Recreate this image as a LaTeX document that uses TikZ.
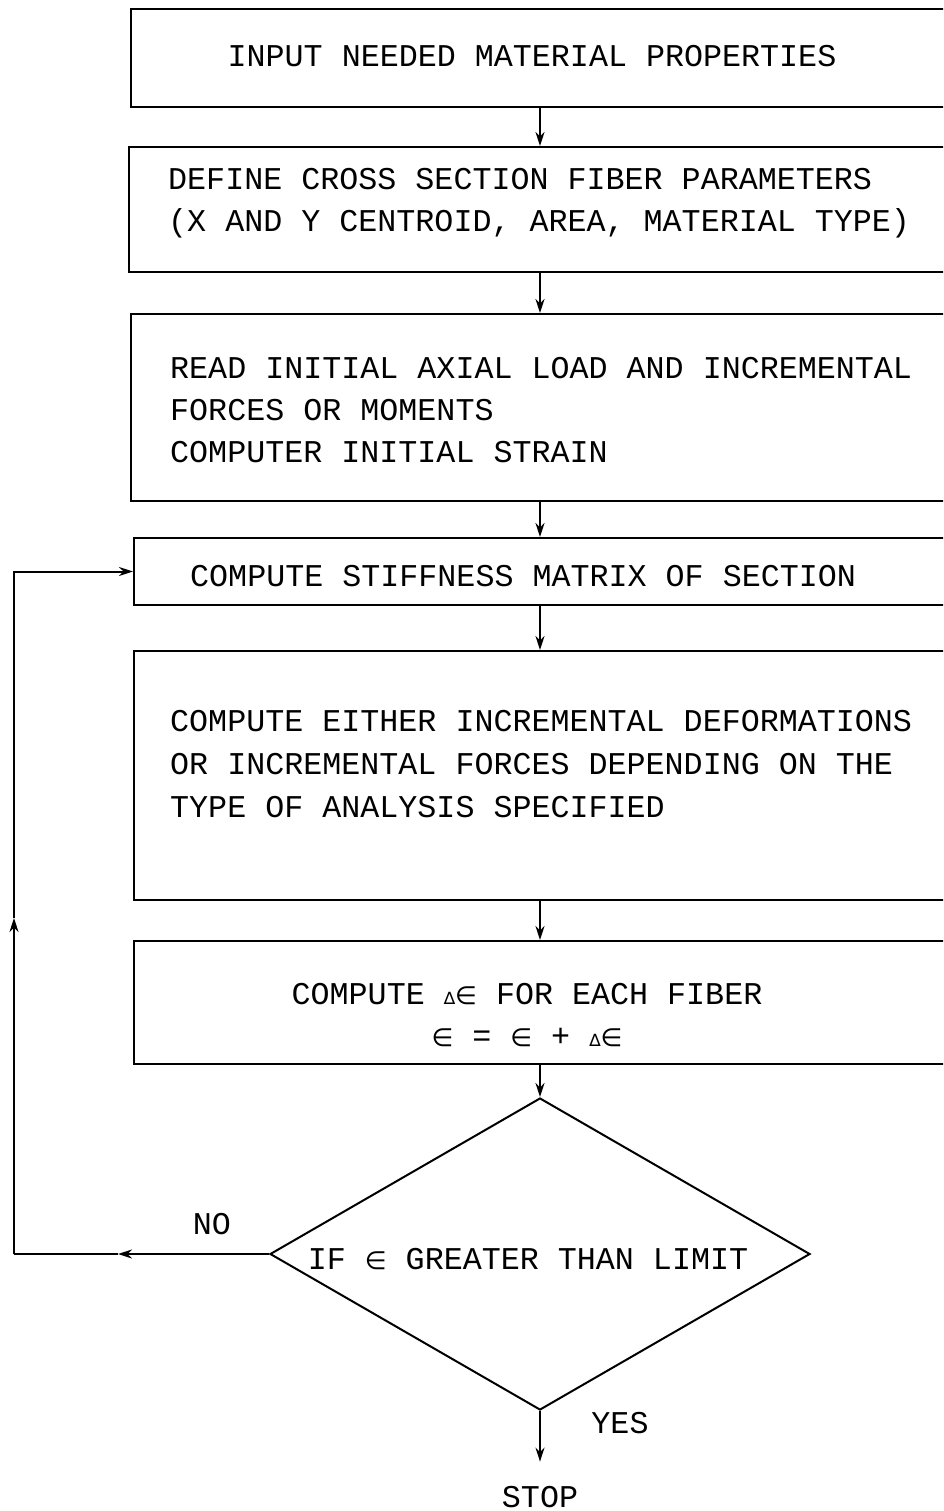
\documentclass[tikz,border=0pt]{standalone}
\usepackage{fontspec}
\setmonofont{Liberation Mono}
\newfontfamily\symf{DejaVu Sans}
\newcommand{\elm}{{\symf\fontsize{25}{25}\selectfont ∈}}
\newcommand{\dlt}{{\symf\fontsize{17}{17}\selectfont ∆}}
\usetikzlibrary{shapes.geometric,arrows.meta}
\begin{document}
\begin{tikzpicture}[x=1pt,y=-1pt,
  box/.style={draw,line width=2pt,rectangle,anchor=north west,minimum width=900pt,inner sep=0pt},
  arr/.style={line width=2pt,-{Stealth[length=14pt,width=9pt]}},
  ln/.style={line width=2pt},
  txt/.style={anchor=base west,inner sep=0pt,font=\ttfamily\fontsize{31.7}{42}\selectfont},
  ctxt/.style={anchor=base,inner sep=0pt,font=\ttfamily\fontsize{31.7}{42}\selectfont}]
\useasboundingbox (0,0) rectangle (943,1511);
\clip (0,0) rectangle (943,1511);
\fill[white] (0,0) rectangle (943,1511);

% boxes
\node[box,minimum height=98pt]  (b1) at (130,8) {};
\node[box,minimum height=125pt] (b2) at (128,146) {};
\node[box,minimum height=187pt] (b3) at (130,313) {};
\node[box,minimum height=67pt]  (b4) at (133,537) {};
\node[box,minimum height=249pt] (b5) at (133,650) {};
\node[box,minimum height=123pt] (b6) at (133,940) {};
\node[draw,diamond,line width=2pt,minimum width=540pt,minimum height=312pt,inner sep=0pt] (d) at (540,1254) {};

% texts
\node[ctxt] (t1) at (532,67) {INPUT NEEDED MATERIAL PROPERTIES};
\node[txt] (t2a) at (168,190) {DEFINE CROSS SECTION FIBER PARAMETERS};
\node[txt] (t2b) at (168,232) {(X AND Y CENTROID, AREA, MATERIAL TYPE)};
\node[txt] (t3a) at (170,378) {READ INITIAL AXIAL LOAD AND INCREMENTAL};
\node[txt] (t3b) at (170,420) {FORCES OR MOMENTS};
\node[txt] (t3c) at (170,462) {COMPUTER INITIAL STRAIN};
\node[txt] (t4) at (190,586) {COMPUTE STIFFNESS MATRIX OF SECTION};
\node[txt] (t5a) at (170,731) {COMPUTE EITHER INCREMENTAL DEFORMATIONS};
\node[txt] (t5b) at (170,774) {OR INCREMENTAL FORCES DEPENDING ON THE};
\node[txt] (t5c) at (170,817) {TYPE OF ANALYSIS SPECIFIED};
\node[ctxt] (t6a) at (527,1004) {COMPUTE \dlt\elm{} FOR EACH FIBER};
\node[ctxt] (t6b) at (527,1046) {\elm{} = \elm{} + \dlt\elm};
\node[ctxt] (td) at (528,1269) {IF \elm{} GREATER THAN LIMIT};
\node[ctxt] (no) at (212,1234) {NO};
\node[ctxt] (yes) at (620,1433) {YES};
\node[ctxt] (stop) at (540,1507) {STOP};

% connectors
\coordinate (ax) at (540,0);
\coordinate (n1) at (118,0);
\coordinate (lx) at (14,918);
\draw[arr] (b1.south -| ax) -- (b2.north -| ax);
\draw[arr] (b2.south -| ax) -- (b3.north -| ax);
\draw[arr] (b3.south -| ax) -- (b4.north -| ax);
\draw[arr] (b4.south -| ax) -- (b5.north -| ax);
\draw[arr] (b5.south -| ax) -- (b6.north -| ax);
\draw[arr] (b6.south -| ax) -- (d.north);
\draw[arr,shorten >=24pt] (d.south) -- (stop.north);
\draw[arr] (d.west) -- (d.west -| n1);
\draw[ln] (d.west -| n1) -- (d.west -| lx);
\draw[arr] (d.west -| lx) -- (lx);
\draw[arr] (lx) |- (b4.west);
\end{tikzpicture}
\end{document}
